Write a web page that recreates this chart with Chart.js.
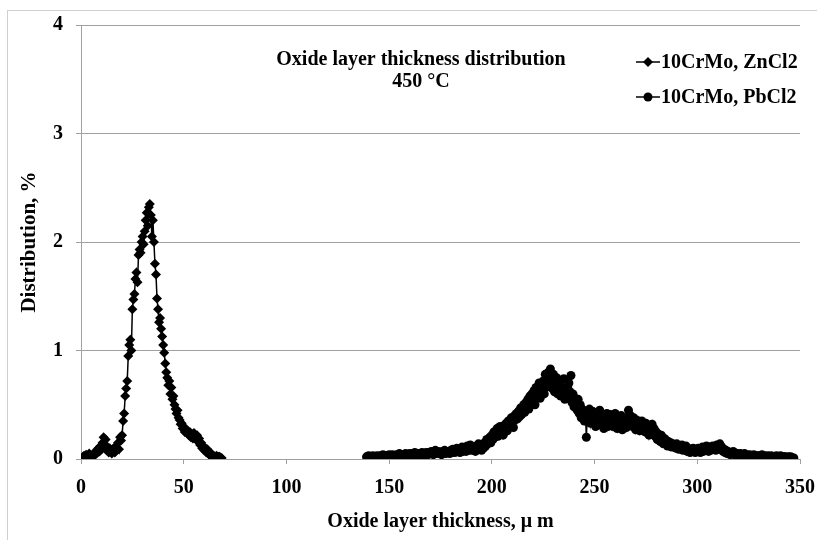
<!DOCTYPE html>
<html><head><meta charset="utf-8">
<script src="https://cdn.jsdelivr.net/npm/chart.js@4/dist/chart.umd.min.js"></script>
<style>html,body{margin:0;padding:0;background:#fff}#wrap{width:817px;height:540px}</style>
</head><body><div id="wrap"><canvas id="c" width="817" height="540"></canvas></div>
<script>
const chartTitle = ['Oxide layer thickness distribution', '450 °C'];
const seriesNames = ['10CrMo, ZnCl2', '10CrMo, PbCl2'];
const xAxisTitle = 'Oxide layer thickness, μ m';
const yAxisTitle = 'Distribution, %';
const xTicks = [0, 50, 100, 150, 200, 250, 300, 350];
const yTicks = [0, 1, 2, 3, 4];

// ZnCl2: thickness bins from 1 µm, every 0.5 µm
const znStart = 1, znStep = 0.5;
const znValues = [
  0.02,0.03,0.01,0.04,0.03,0.02,0.05,0.03,0.02,0.04,
  0.03,0.05,0.04,0.08,0.06,0.1,0.07,0.12,0.09,0.15,
  0.2,0.13,0.18,0.08,0.11,0.06,0.1,0.07,0.05,0.09,
  0.08,0.06,0.12,0.1,0.15,0.09,0.2,0.17,0.22,0.35,
  0.42,0.58,0.65,0.72,0.95,1.05,1.1,1.0,1.38,1.47,
  1.52,1.66,1.72,1.63,1.88,1.93,1.9,2.0,2.05,1.98,
  2.1,2.2,2.27,2.15,2.32,2.35,2.25,2.05,2.2,2.0,
  1.8,1.7,1.48,1.38,1.26,1.3,1.2,1.13,1.05,0.98,
  0.88,0.8,0.75,0.68,0.72,0.6,0.66,0.55,0.58,0.5,
  0.46,0.42,0.45,0.38,0.36,0.32,0.33,0.28,0.3,0.25,
  0.27,0.24,0.26,0.22,0.25,0.2,0.23,0.19,0.24,0.2,
  0.18,0.22,0.16,0.19,0.13,0.15,0.1,0.12,0.08,0.1,
  0.06,0.09,0.05,0.04,0.03,0.05,0.02,0.03,0.01,0.02,
  0.03,0.01,0.02,0.02,0.01,0.01
];

// PbCl2: thickness bins from 139 µm, every 0.5 µm
const pbStart = 139, pbStep = 0.5;
const pbValues = [
  0.02,0.01,0.03,0.02,0.01,0.02,0.03,0.01,0.02,0.02,0.03,0.02,0.01,0.03,0.02,0.02,0.04,0.02,0.03,0.02,
  0.03,0.02,0.04,0.03,0.02,0.04,0.03,0.02,0.03,0.04,0.02,0.03,0.05,0.03,0.04,0.02,0.03,0.04,0.05,0.03,
  0.04,0.03,0.05,0.04,0.03,0.05,0.04,0.06,0.03,0.04,0.05,0.04,0.03,0.05,0.06,0.04,0.05,0.03,0.06,0.05,
  0.04,0.06,0.05,0.07,0.05,0.04,0.06,0.08,0.05,0.06,0.07,0.05,0.06,0.04,0.07,0.06,0.08,0.05,0.07,0.06,
  0.07,0.05,0.08,0.06,0.09,0.07,0.06,0.08,0.1,0.07,0.08,0.06,0.09,0.11,0.07,0.08,0.1,0.07,0.12,0.09,
  0.08,0.13,0.1,0.08,0.11,0.09,0.07,0.12,0.1,0.14,0.09,0.11,0.08,0.13,0.1,0.15,0.12,0.18,0.14,0.17,
  0.2,0.15,0.22,0.18,0.25,0.2,0.23,0.28,0.21,0.26,0.3,0.24,0.27,0.22,0.31,0.28,0.33,0.26,0.35,0.3,
  0.32,0.38,0.34,0.29,0.4,0.36,0.42,0.37,0.44,0.39,0.47,0.41,0.45,0.5,0.43,0.52,0.48,0.55,0.46,0.58,
  0.52,0.6,0.55,0.63,0.5,0.66,0.58,0.62,0.7,0.56,0.68,0.64,0.72,0.6,0.78,0.66,0.74,0.8,0.69,0.83,
  0.72,0.65,0.78,0.62,0.7,0.75,0.6,0.68,0.72,0.58,0.66,0.63,0.74,0.55,0.65,0.6,0.56,0.7,0.62,0.77,
  0.52,0.6,0.48,0.56,0.5,0.45,0.55,0.42,0.5,0.38,0.46,0.4,0.35,0.44,0.2,0.42,0.36,0.46,0.33,0.4,
  0.44,0.35,0.38,0.3,0.42,0.37,0.33,0.45,0.36,0.31,0.4,0.28,0.38,0.34,0.42,0.3,0.36,0.41,0.32,0.38,
  0.3,0.37,0.42,0.33,0.28,0.39,0.35,0.31,0.4,0.27,0.36,0.33,0.38,0.29,0.35,0.45,0.32,0.4,0.36,0.3,
  0.38,0.33,0.27,0.36,0.31,0.34,0.26,0.32,0.35,0.28,0.3,0.25,0.33,0.27,0.31,0.22,0.29,0.26,0.32,0.24,
  0.28,0.21,0.25,0.18,0.23,0.2,0.16,0.22,0.18,0.14,0.19,0.15,0.17,0.12,0.16,0.13,0.15,0.11,0.14,0.12,
  0.13,0.1,0.14,0.11,0.09,0.12,0.1,0.13,0.08,0.11,0.09,0.12,0.07,0.1,0.08,0.06,0.09,0.07,0.1,0.08,
  0.06,0.09,0.07,0.1,0.08,0.06,0.09,0.11,0.07,0.1,0.08,0.12,0.09,0.07,0.11,0.08,0.1,0.12,0.09,0.11,
  0.08,0.13,0.1,0.12,0.14,0.09,0.11,0.07,0.09,0.06,0.08,0.05,0.07,0.06,0.04,0.06,0.05,0.07,0.04,0.05,
  0.03,0.05,0.04,0.03,0.05,0.02,0.04,0.03,0.05,0.02,0.04,0.03,0.02,0.04,0.03,0.02,0.03,0.04,0.02,0.03,
  0.02,0.03,0.01,0.03,0.02,0.04,0.02,0.01,0.03,0.02,0.02,0.03,0.01,0.02,0.03,0.01,0.02,0.02,0.01,0.03,
  0.02,0.01,0.02,0.03,0.01,0.02,0.01,0.02,0.02,0.01,0.01,0.02,0.01,0.02,0.01,0.01,0.01
];

const toPoints = (start, step, vals) => vals.map((v, i) => ({ x: start + i * step, y: v }));

const FONT = "'Liberation Serif', 'Times New Roman', serif";
const GRID = '#a0a0a0';

const overlay = {
  id: 'overlay',
  beforeDraw(chart) {
    const ctx = chart.ctx;
    ctx.save();
    ctx.fillStyle = '#fff';
    ctx.fillRect(0, 0, chart.width, chart.height);
    ctx.strokeStyle = '#cfcfcf';
    ctx.lineWidth = 1;
    ctx.strokeRect(7.5, 10.5, 830, 560);
    ctx.restore();
  },
  afterDraw(chart) {
    const ctx = chart.ctx;
    ctx.save();
    ctx.fillStyle = '#000';
    ctx.textAlign = 'center';
    ctx.textBaseline = 'middle';
    ctx.font = 'bold 20px ' + FONT;
    ctx.fillText(chartTitle[0], 421, 60);
    ctx.fillText(chartTitle[1], 421, 82);
    // legend
    const rows = [62, 97];
    chart.data.datasets.forEach((ds, i) => {
      const y = rows[i], x0 = 636;
      ctx.strokeStyle = '#000';
      ctx.lineWidth = 1.5;
      ctx.beginPath(); ctx.moveTo(x0, y); ctx.lineTo(x0 + 24, y); ctx.stroke();
      ctx.fillStyle = '#000';
      ctx.beginPath();
      if (ds.pointStyle === 'rectRot') {
        ctx.moveTo(x0 + 12, y - 5); ctx.lineTo(x0 + 17, y); ctx.lineTo(x0 + 12, y + 5); ctx.lineTo(x0 + 7, y);
        ctx.closePath();
      } else {
        ctx.arc(x0 + 12, y, 4.5, 0, Math.PI * 2);
      }
      ctx.fill();
      ctx.textAlign = 'left';
      ctx.font = 'bold 20px ' + FONT;
      ctx.fillText(ds.label, x0 + 25, y + 1);
    });
    ctx.restore();
  }
};

new Chart(document.getElementById('c'), {
  type: 'scatter',
  data: {
    datasets: [
      { label: seriesNames[0], data: toPoints(znStart, znStep, znValues), showLine: true,
        borderColor: '#000', backgroundColor: '#000', borderWidth: 1.5,
        pointStyle: 'rectRot', pointRadius: 5, pointBorderWidth: 0, pointHoverRadius: 5 },
      { label: seriesNames[1], data: toPoints(pbStart, pbStep, pbValues), showLine: true,
        borderColor: '#000', backgroundColor: '#000', borderWidth: 1.5,
        pointStyle: 'circle', pointRadius: 4.5, pointBorderWidth: 0, pointHoverRadius: 4.5 }
    ]
  },
  options: {
    responsive: false, animation: false, devicePixelRatio: 1,
    layout: { padding: { left: 0, right: 17, top: 25, bottom: 0 } },
    plugins: { legend: { display: false }, tooltip: { enabled: false } },
    scales: {
      x: {
        type: 'linear', min: 0, max: 350,
        afterBuildTicks: s => { s.ticks = xTicks.map(v => ({ value: v })); },
        afterFit: s => { s.height = 81; s.paddingRight = 0; s.paddingLeft = 0; },
        ticks: { font: { family: FONT, weight: 'bold', size: 20 }, color: '#000', padding: 12, maxRotation: 0 },
        grid: { drawOnChartArea: false, drawTicks: true, tickLength: 5, color: GRID },
        border: { color: GRID, width: 1 },
        title: { display: true, text: xAxisTitle, font: { family: FONT, weight: 'bold', size: 20 }, color: '#000', padding: { top: 0, bottom: 6 } }
      },
      y: {
        min: 0, max: 4,
        afterBuildTicks: s => { s.ticks = yTicks.map(v => ({ value: v })); },
        afterFit: s => { s.width = 81; s.paddingTop = 0; s.paddingBottom = 0; },
        ticks: { font: { family: FONT, weight: 'bold', size: 20 }, color: '#000', padding: 13 },
        grid: { color: GRID, tickLength: 5 },
        border: { color: GRID, width: 1 },
        title: { display: true, text: yAxisTitle, font: { family: FONT, weight: 'bold', size: 21 }, color: '#000', padding: { top: 17, bottom: 0 } }
      }
    }
  },
  plugins: [overlay]
});
</script>
</body></html>
